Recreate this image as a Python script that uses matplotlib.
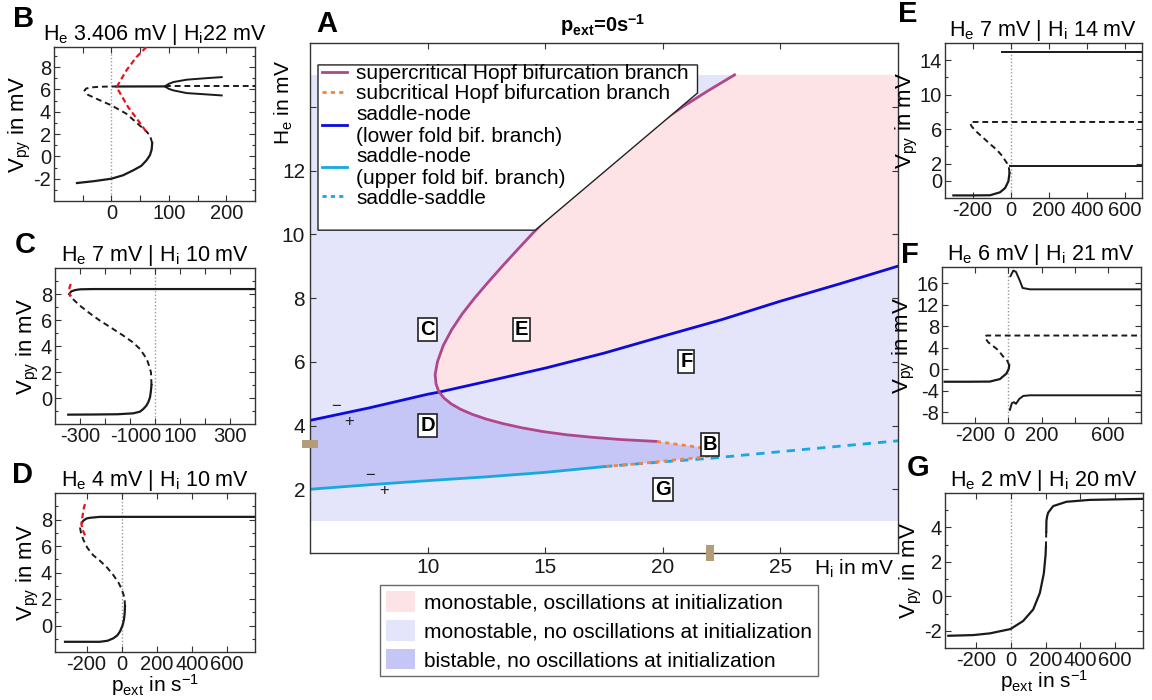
import numpy as np
import matplotlib
matplotlib.use('Agg')
import matplotlib.pyplot as plt
from matplotlib.lines import Line2D
from matplotlib.patches import Patch, Polygon
from matplotlib.path import Path

plt.rcParams['font.family'] = ['Liberation Sans', 'DejaVu Sans']
plt.rcParams['mathtext.default'] = 'regular'
plt.rcParams['axes.unicode_minus'] = False

# =========================================
#   DATA: panel A, two-parameter diagram (H_i, H_e in mV)
# =========================================
# Hopf branch, from the top end down round the knee to the Bogdanov-Takens end
hopf_hi = [23.05, 21.92, 20.85, 19.85, 18.92, 18.05, 17.24, 16.48, 15.76, 15.08, 14.43, 13.8,
           13.18, 12.58, 12.0, 11.47, 11.02, 10.66, 10.42, 10.32,
           10.36, 10.48, 10.7, 11.0, 11.4, 11.9, 12.5, 13.2, 14.0, 14.9, 15.9, 17.0, 18.2, 19.75]
hopf_he = [15.0, 14.5, 14.0, 13.5, 13.0, 12.5, 12.0, 11.5, 11.0, 10.5, 10.0, 9.5,
           9.0, 8.5, 8.0, 7.5, 7.0, 6.5, 6.0, 5.6,
           5.3, 5.06, 4.86, 4.68, 4.51, 4.35, 4.2, 4.06, 3.93, 3.81, 3.71, 3.63, 3.56, 3.5]
subhopf_hi = [19.75, 20.5, 21.5, 22.4, 22.2, 21.5, 20.5, 19.5, 18.5, 17.6]
subhopf_he = [3.5, 3.42, 3.32, 3.2, 3.06, 2.99, 2.92, 2.84, 2.77, 2.72]
fold_low_hi = [5, 7.5, 10, 10.5, 12.5, 15, 17.5, 20, 22.5, 25, 27.5, 30]
fold_low_he = [4.16, 4.55, 4.98, 5.05, 5.38, 5.8, 6.27, 6.8, 7.32, 7.9, 8.44, 9.0]
fold_up_hi = [5, 7.5, 10, 12.5, 15, 17.5]
fold_up_he = [2.0, 2.14, 2.27, 2.39, 2.53, 2.71]
saddle_hi = [17.5, 20, 22, 25, 27.5, 30]
saddle_he = [2.71, 2.86, 2.97, 3.18, 3.35, 3.52]
region_hi = [5, 30]
region_he = [1, 15]

# parameter points of panels B-G
panel_names = ['B', 'C', 'D', 'E', 'F', 'G']
panel_he = [3.406, 7, 4, 7, 6, 2]
panel_hi = [22, 10, 10, 14, 21, 20]
panel_titles = [r'H$_e$ 3.406 mV | H$_i$22 mV', r'H$_e$ 7 mV | H$_i$ 10 mV',
                r'H$_e$ 4 mV | H$_i$ 10 mV', r'H$_e$ 7 mV | H$_i$ 14 mV',
                r'H$_e$ 6 mV | H$_i$ 21 mV', r'H$_e$ 2 mV | H$_i$ 20 mV']

sign_hi = [6.1, 6.65, 7.55, 8.15]
sign_he = [4.6, 4.13, 2.42, 1.96]
sign_txt = ['\u2212', '+', '\u2212', '+']

# =========================================
#   DATA: panels B-G, one-parameter diagrams (p_ext in 1/s, V_py in mV)
# =========================================
b_low_p = [-60, -30, 0, 20, 38, 52, 61, 67, 70, 71]
b_low_v = [-2.39, -2.22, -2.0, -1.7, -1.25, -0.85, -0.36, 0.1, 0.6, 1.2]
b_mid_p = [71, 67, 58, 49, 26, 0, -26, -41, -47, -44, -35, -20, 0, 9]
b_mid_v = [1.2, 1.88, 2.4, 2.78, 3.82, 4.57, 5.16, 5.52, 5.9, 6.08, 6.18, 6.24, 6.26, 6.26]
b_up_p = [9, 93]
b_up_v = [6.26, 6.27]
b_ss_p = [93, 250]
b_ss_v = [6.27, 6.27]
b_cyc_p = [192, 166, 131, 108, 100, 93, 100, 108, 131, 166, 192]
b_cyc_v = [7.1, 7.01, 6.87, 6.66, 6.5, 6.27, 6.05, 5.91, 5.67, 5.55, 5.46]
b_ucyc_p = [61, 43.6, 26, 9, 29, 46.5, 61]
b_ucyc_v = [9.8, 8.9, 7.7, 6.2, 4.42, 3.22, 2.18]

c_low_p = [-347, -250, -150, -87, -60, -47, -35, -27, -20, -17, -14]
c_low_v = [-1.28, -1.27, -1.25, -1.18, -1.05, -0.85, -0.6, -0.33, 0.05, 0.44, 1.0]
c_mid_p = [-14, -16, -24, -33, -60, -90, -127, -175, -220, -260, -300, -325, -340, -343]
c_mid_v = [1.0, 1.97, 2.5, 3.0, 3.77, 4.3, 4.8, 5.4, 5.95, 6.5, 7.1, 7.55, 7.87, 8.0]
c_up_p = [-343, -335, -320, -300, -250, 400]
c_up_v = [8.0, 8.2, 8.3, 8.36, 8.38, 8.38]
c_ucyc_p = [-337, -342, -343, -340, -336]
c_ucyc_v = [8.77, 8.5, 8.2, 7.95, 7.82]

d_low_p = [-323, -200, -124, -80, -48, -25, -10, 5, 13, 17, 19]
d_low_v = [-1.23, -1.23, -1.23, -1.15, -0.97, -0.75, -0.46, 0.0, 0.44, 0.9, 1.46]
d_mid_p = [19, 17, 13, 0, -19, -50, -85, -125, -162, -195, -218, -232, -237, -234, -225]
d_mid_v = [1.46, 1.9, 2.23, 2.75, 3.26, 3.85, 4.4, 4.9, 5.3, 5.85, 6.46, 7.0, 7.36, 7.6, 7.8]
d_up_p = [-225, -218, -200, -180, -124, 760]
d_up_v = [7.8, 7.92, 8.08, 8.13, 8.2, 8.2]
d_ucyc_p = [-209, -222, -229, -225, -215, -203]
d_ucyc_v = [6.8, 7.2, 7.6, 8.1, 8.9, 9.4]

e_low_p = [-301, -200, -108, -56, -29, -12, -6]
e_low_v = [-1.7, -1.7, -1.68, -1.34, -0.84, -0.06, 0.9]
e_mid_p = [-6, -10, -20, -45, -73, -110, -143, -180, -205, -213, -205, 690]
e_mid_v = [0.9, 1.6, 2.06, 2.9, 3.6, 4.3, 4.97, 5.7, 6.32, 6.7, 6.83, 6.83]
e_cyc_top_p = [-47, 690]
e_cyc_top_v = [14.95, 14.95]
e_cyc_bot_p = [-3, 690]
e_cyc_bot_v = [1.75, 1.75]

f_low_p = [-384, -250, -112, -51, -11, 3, 5]
f_low_v = [-2.33, -2.33, -2.3, -1.84, -0.8, 0.12, 0.74]
f_mid_p = [5, -5, -21, -45, -71, -100, -122, -142, -132, 800]
f_mid_v = [0.74, 1.5, 1.96, 2.9, 3.8, 4.5, 5.03, 5.95, 6.26, 6.26]
f_cyc_top_p = [13, 30, 46, 70, 86, 130, 800]
f_cyc_top_v = [17.3, 18.34, 18.1, 16.4, 15.1, 14.85, 14.85]
f_cyc_bot_p = [9.5, 21.5, 34, 46, 66, 90, 130, 800]
f_cyc_bot_v = [-7.55, -6.3, -6.13, -6.44, -5.52, -4.97, -4.85, -4.85]

g_low_p = [-361, -217, -121, -3, 70, 128, 166, 189, 199, 201]
g_low_v = [-2.29, -2.25, -2.15, -1.9, -1.43, -0.76, 0.19, 1.33, 2.4, 2.85]
g_mid_p = [201, 202, 203]
g_mid_v = [2.85, 3.3, 3.75]
g_up_p = [203, 204, 208, 214, 243, 319, 453, 760]
g_up_v = [3.75, 4.38, 4.65, 4.86, 5.24, 5.49, 5.6, 5.66]

panel_curves = [
    [(b_low_p, b_low_v, 'stable'), (b_mid_p, b_mid_v, 'unstable'), (b_up_p, b_up_v, 'stable'),
     (b_ss_p, b_ss_v, 'unstable'), (b_cyc_p, b_cyc_v, 'cycle'), (b_ucyc_p, b_ucyc_v, 'ucycle')],
    [(c_low_p, c_low_v, 'stable'), (c_mid_p, c_mid_v, 'unstable'), (c_up_p, c_up_v, 'stable'),
     (c_ucyc_p, c_ucyc_v, 'ucycle')],
    [(d_low_p, d_low_v, 'stable'), (d_mid_p, d_mid_v, 'unstable'), (d_up_p, d_up_v, 'stable'),
     (d_ucyc_p, d_ucyc_v, 'ucycle')],
    [(e_low_p, e_low_v, 'stable'), (e_mid_p, e_mid_v, 'unstable'),
     (e_cyc_top_p, e_cyc_top_v, 'cycle'), (e_cyc_bot_p, e_cyc_bot_v, 'cycle')],
    [(f_low_p, f_low_v, 'stable'), (f_mid_p, f_mid_v, 'unstable'),
     (f_cyc_top_p, f_cyc_top_v, 'cycle'), (f_cyc_bot_p, f_cyc_bot_v, 'cycle')],
    [(g_low_p, g_low_v, 'stable'), (g_mid_p, g_mid_v, 'unstable'), (g_up_p, g_up_v, 'stable')],
]

# =========================================
#   STYLE / LAYOUT
# =========================================
c_purple = '#b0478a'
c_orange = '#f5843f'
c_blue = '#0b0bdc'
c_cyan = '#16a8e0'
c_pink = '#fde3e5'
c_mono = '#e4e4fb'
c_bist = '#c6c6f6'
c_tan = '#b39c78'
c_axis = '#333333'

curve_style = {
    'stable': dict(color='#1a1a1a', lw=1.6, ls='-'),
    'unstable': dict(color='#1a1a1a', lw=1.4, ls=(0, (3, 2))),
    'cycle': dict(color='#1a1a1a', lw=1.4, ls='-'),
    'ucycle': dict(color='#e8141b', lw=1.6, ls=(0, (2.5, 1.5))),
}

W, H = 1152.0, 700.0


def fig_rect(left, top, right, bottom):
    return [left / W, 1 - bottom / H, (right - left) / W, (bottom - top) / H]


def style_axes(ax, size):
    for s in ax.spines.values():
        s.set_color(c_axis)
        s.set_linewidth(1.0)
    ax.tick_params(which='both', direction='in', top=True, right=True, colors=c_axis,
                   labelcolor='#1a1a1a', labelsize=size, width=0.8)
    ax.tick_params(which='major', length=4)
    ax.tick_params(which='minor', length=2.5)


fig = plt.figure(figsize=(11.52, 7), dpi=100)

# =========================================
#   PANEL A
# =========================================
axA = fig.add_axes(fig_rect(310, 43, 898, 553))
axA.set_xlim(5, 30)
axA.set_ylim(0, 16)

hopf_hi = np.array(hopf_hi)
hopf_he = np.array(hopf_he)
fold_at_hopf = np.interp(hopf_hi, fold_low_hi, fold_low_he)
k = int(np.argmax(hopf_he < fold_at_hopf - 0.03))   # first point below the fold line
x_cross = hopf_hi[k - 1]

axA.fill_between(region_hi, region_he[0], region_he[1], color=c_mono, lw=0, zorder=0)

flh = np.array(fold_low_hi)
fle = np.array(fold_low_he)
pink_x = list(hopf_hi[:k]) + list(flh[flh > x_cross]) + [region_hi[1]]
pink_y = list(hopf_he[:k]) + list(fle[flh > x_cross]) + [region_he[1]]
axA.fill(pink_x, pink_y, color=c_pink, lw=0, zorder=0.5)

bist_x = list(flh[flh < x_cross]) + list(hopf_hi[k - 1:]) + subhopf_hi[1:] + fold_up_hi[::-1]
bist_y = list(fle[flh < x_cross]) + list(hopf_he[k - 1:]) + subhopf_he[1:] + fold_up_he[::-1]
axA.fill(bist_x, bist_y, color=c_bist, lw=0, zorder=0.6)

axA.plot(fold_low_hi, fold_low_he, color=c_blue, lw=2, zorder=2)
axA.plot(fold_up_hi, fold_up_he, color=c_cyan, lw=2, zorder=2)
axA.plot(saddle_hi, saddle_he, color=c_cyan, lw=2, ls=(0, (3, 2.5)), zorder=2)
axA.plot(hopf_hi, hopf_he, color=c_purple, lw=2, zorder=2.5)
axA.plot(subhopf_hi, subhopf_he, color=c_orange, lw=2, ls=(0, (1.5, 1.5)), zorder=2.6)

for name, hi, he in zip(panel_names, panel_hi, panel_he):
    axA.text(hi, he, name, ha='center', va='center', fontsize=14.5, fontweight='bold', zorder=6,
             bbox=dict(boxstyle='square,pad=0.1', fc='white', ec='#222222', lw=1.2))

for hi, he, t in zip(sign_hi, sign_he, sign_txt):
    axA.text(hi, he, t, ha='center', va='center', fontsize=12, color='#222222', zorder=6)

# markers of panel B's parameters on the axes
mk_h = Path([(-1, -0.5), (1, -0.5), (1, 0.5), (-1, 0.5), (-1, -0.5)])
mk_v = Path([(-0.5, -1), (0.5, -1), (0.5, 1), (-0.5, 1), (-0.5, -1)])
axA.plot([5], [panel_he[0]], marker=mk_h, ms=11, color=c_tan, mew=0, clip_on=False, zorder=8)
axA.plot([panel_hi[0]], [0], marker=mk_v, ms=11, color=c_tan, mew=0, clip_on=False, zorder=8)

axA.set_xticks([10, 15, 20, 25])
axA.set_yticks([2, 4, 6, 8, 10, 12, 14])
axA.set_yticklabels(['2', '4', '6', '8', '10', '12', ''])
style_axes(axA, 15)
axA.text(-0.045, 0.884, r'H$_e$ in mV', rotation=90, ha='center', va='center',
         fontsize=15, transform=axA.transAxes)
axA.text(0.993, -0.032, r'H$_i$ in mV', ha='right', va='center', fontsize=15,
         transform=axA.transAxes)
fig.text(603 / W, 1 - 25 / H, r'p$_{ext}$=0s$^{-1}$', ha='center', va='center',
         fontsize=14.5, fontweight='bold')

# legend with cut corner
legend_shape = Polygon([(0.0136, 0.957), (0.659, 0.957), (0.659, 0.902), (0.383, 0.633),
                        (0.0136, 0.633)], closed=True, transform=axA.transAxes,
                       fc='white', ec='#222222', lw=1.0, zorder=4.5)
axA.add_patch(legend_shape)
handles = [Line2D([], [], color=c_purple, lw=2),
           Line2D([], [], color=c_orange, lw=2, ls=(0, (1.5, 1.5))),
           Line2D([], [], color=c_blue, lw=2),
           Line2D([], [], color=c_cyan, lw=2),
           Line2D([], [], color=c_cyan, lw=2, ls=(0, (1.5, 1.5)))]
labels = ['supercritical Hopf bifurcation branch', 'subcritical Hopf bifurcation branch',
          'saddle-node\n(lower fold bif. branch)', 'saddle-node\n(upper fold bif. branch)',
          'saddle-saddle']
leg = axA.legend(handles, labels, loc='upper left', bbox_to_anchor=(0.02, 0.958),
                 frameon=False, fontsize=15, handlelength=1.2, handletextpad=0.45,
                 labelspacing=0.05, borderaxespad=0, borderpad=0)
leg.set_zorder(5)

# region legend under panel A
area_handles = [Patch(fc=c_pink, ec='none'), Patch(fc=c_mono, ec='none'), Patch(fc=c_bist, ec='none')]
area_labels = ['monostable, oscillations at initialization',
               'monostable, no oscillations at initialization',
               'bistable, no oscillations at initialization']
leg2 = fig.legend(area_handles, area_labels, loc='upper left',
                  bbox_to_anchor=(380 / W, 1 - 585 / H), frameon=True, fancybox=False,
                  edgecolor='#444444', fontsize=15, handlelength=1.4, handleheight=1.15,
                  handletextpad=0.4, labelspacing=0.35, borderpad=0.3, borderaxespad=0)
leg2.get_frame().set_linewidth(1.0)

# =========================================
#   PANELS B-G
# =========================================
panel_rects = [(54, 47, 255, 201), (55, 268, 255, 424), (55, 493, 255, 652),
               (945, 43, 1142, 198), (942, 267, 1141, 423), (945, 493, 1143, 648)]
panel_xlim = [(-100, 250), (-400, 400), (-380, 760), (-345, 690), (-400, 800), (-380, 760)]
panel_ylim = [(-4, 9.8), (-2, 10), (-2, 10), (-2, 16), (-10, 19), (-3, 6)]
panel_xt = [[-50, 0, 50, 100, 150, 200], [-300, -200, -100, 0, 100, 200, 300],
            [-200, 0, 200, 400, 600], [-200, 0, 200, 400, 600],
            [-200, 0, 200, 400, 600], [-200, 0, 200, 400, 600]]
panel_xtl = [['', '0', '', '100', '', '200'], ['-300', '', '-100', '0', '100', '', '300'],
             ['-200', '0', '200', '400', '600'], ['-200', '0', '200', '400', '600'],
             ['-200', '0', '200', '', '600'], ['-200', '0', '200', '400', '600']]
panel_yt = [[-2, 0, 2, 4, 6, 8], [0, 2, 4, 6, 8], [0, 2, 4, 6, 8],
            [0, 2, 6, 10, 14], [-8, -4, 0, 4, 8, 12, 16], [-2, 0, 2, 4]]
panel_ymt = [[-3, -1, 1, 3, 5, 7, 9], [-1, 1, 3, 5, 7, 9], [-1, 1, 3, 5, 7, 9],
             [4, 8, 12], [], [-1, 1, 3, 5]]
letter_pos = [(327, 24), (24, 19), (25, 245), (23, 475), (908, 14), (910, 255), (918, 468)]

for i, name in enumerate(panel_names):
    ax = fig.add_axes(fig_rect(*panel_rects[i]))
    ax.axvline(0, color='#9a9a9a', lw=1.0, ls=(0, (1, 1.5)), zorder=1)
    for p, v, kind in panel_curves[i]:
        ax.plot(p, v, zorder=3, **curve_style[kind])
    ax.set_xlim(*panel_xlim[i])
    ax.set_ylim(*panel_ylim[i])
    ax.set_xticks(panel_xt[i])
    ax.set_xticklabels(panel_xtl[i])
    ax.set_yticks(panel_yt[i])
    ax.set_yticks(panel_ymt[i], minor=True)
    style_axes(ax, 14.5)
    ax.tick_params(axis='x', pad=2)
    ax.tick_params(axis='y', pad=2)
    ax.set_title(panel_titles[i], fontsize=15.5, pad=4)
    ax.set_ylabel(r'V$_{py}$ in mV', fontsize=16, labelpad=0)
    if name in ('D', 'G'):
        ax.set_xlabel(r'p$_{ext}$ in s$^{-1}$', fontsize=15, labelpad=-1)

for lab, (x, y) in zip(['A'] + panel_names, letter_pos):
    fig.text(x / W, 1 - y / H, lab, ha='center', va='center', fontsize=21, fontweight='bold')

fig.savefig('out.png', dpi=100)
